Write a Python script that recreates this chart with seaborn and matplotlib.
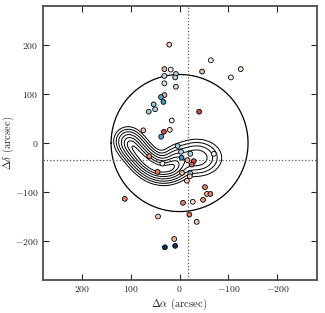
import numpy as np
import pandas as pd
import matplotlib
matplotlib.use('Agg')
import matplotlib.pyplot as plt
import seaborn as sns

# galaxy offsets (arcsec) and colour value (blue -> red)
dra = [21, -64, -125, 31, 18, -46, 31, 7.5, 9, -105, 31, 7.5, 31, 38, 33, 53, 50, 63,
       -40, 16, 74, 32, 20, 37.5, 4, -3, -22, -70, -4, 62, -16, -29, -25, 35, 45, -5,
       -22, -21, -15, -52, -56, -63, -48, 112, -7, -27, -20, 44, -35, 11, 30, 9]
ddec = [201, 169, 151, 151, 150, 146, 137, 141, 134, 134, 122, 115, 98, 94, 84, 79, 69, 64,
        64, 46, 26, 23, 27, 13, -6, -18, -22, -22, -30, -27, -35, -37, -44, -42, -59, -61,
        -62, -68, -77, -90, -104, -104, -116, -114, -122, -120, -146, -150, -161, -196, -213, -210]
vel = [0.25, 0.0, 0.15, 0.35, 0.05, 0.35, -0.25, -0.3, -0.3, 0.0, -0.15, -0.25, 0.35, -0.55, -0.6, -0.4, -0.3, -0.35,
       0.65, 0.05, 0.3, 0.65, 0.2, -0.55, -0.35, -0.3, -0.3, 0.0, -0.6, 0.45, 0.35, 0.65, 0.6, 0.05, 0.5, 0.35,
       -0.35, 0.25, 0.25, 0.5, 0.35, 0.5, 0.45, 0.5, 0.5, 0.2, 0.5, 0.25, 0.25, 0.35, -1.0, -1.0]

# banana shaped density: chain of round gaussians along the arm + a broader lobe + bridge
arm_x = [106, 93, 80, 66, 50, 30, 10]
arm_y = [5, -11, -27, -41, -52, -56, -50]
arm_sig = 15.5
lobe_x, lobe_y = -35, -30
lobe_sx, lobe_sy = 27, 20
lobe_amp = 0.6
bridge_x, bridge_y, bridge_sig, bridge_amp = 8, -30, 15, 0.2
levels = [0.10, 0.18, 0.29, 0.44, 0.61, 0.77, 0.91]

circle_r = 140
cross_x, cross_y = -18, -35

sns.set_style('ticks')
plt.rcParams['font.family'] = ['cmr10']
plt.rcParams['mathtext.fontset'] = 'cm'
plt.rcParams['axes.formatter.use_mathtext'] = True

fig = plt.figure(figsize=(3.25, 3.13), dpi=100)
ax = fig.add_axes([0.131, 0.105, 0.843, 0.876])

gx, gy = np.meshgrid(np.linspace(-160, 170, 400), np.linspace(-140, 80, 300))
arm = np.zeros_like(gx)
for x0, y0 in zip(arm_x, arm_y):
    arm += np.exp(-0.5 * ((gx - x0) ** 2 + (gy - y0) ** 2) / arm_sig ** 2)
arm /= arm.max()
lobe = lobe_amp * np.exp(-0.5 * (((gx - lobe_x) / lobe_sx) ** 2 + ((gy - lobe_y) / lobe_sy) ** 2))
bridge = bridge_amp * np.exp(-0.5 * ((gx - bridge_x) ** 2 + (gy - bridge_y) ** 2) / bridge_sig ** 2)
dens = arm + lobe + bridge
ax.contour(gx, gy, dens, levels=levels, colors='k', linewidths=0.7)

th = np.linspace(0, 2 * np.pi, 400)
ax.plot(circle_r * np.cos(th), circle_r * np.sin(th), color='k', lw=0.9)
ax.axvline(cross_x, color='0.35', ls=':', lw=0.9)
ax.axhline(cross_y, color='0.35', ls=':', lw=0.9)

df = pd.DataFrame({'dra': dra, 'ddec': ddec, 'vel': vel})
sns.scatterplot(data=df, x='dra', y='ddec', hue='vel', palette='RdBu_r', hue_norm=(-1, 1),
                s=12, edgecolor='k', linewidth=0.6, legend=False, ax=ax, zorder=5)

ax.set_xlim(280, -280)
ax.set_ylim(-280, 280)
ax.set_xticks([200, 100, 0, -100, -200])
ax.set_yticks([-200, -100, 0, 100, 200])
ax.tick_params(direction='in', top=True, right=True, length=4, width=0.8, labelsize=7, pad=3)
for s in ax.spines.values():
    s.set_linewidth(1.3)
    s.set_color('0.3')
ax.set_xlabel(r'$\Delta\alpha$ (arcsec)', fontsize=7.7)
ax.set_ylabel(r'$\Delta\delta$ (arcsec)', fontsize=7.7)
ax.xaxis.set_label_coords(0.5, -0.06)
ax.yaxis.set_label_coords(-0.097, 0.5)

fig.savefig('out.png', dpi=100)
